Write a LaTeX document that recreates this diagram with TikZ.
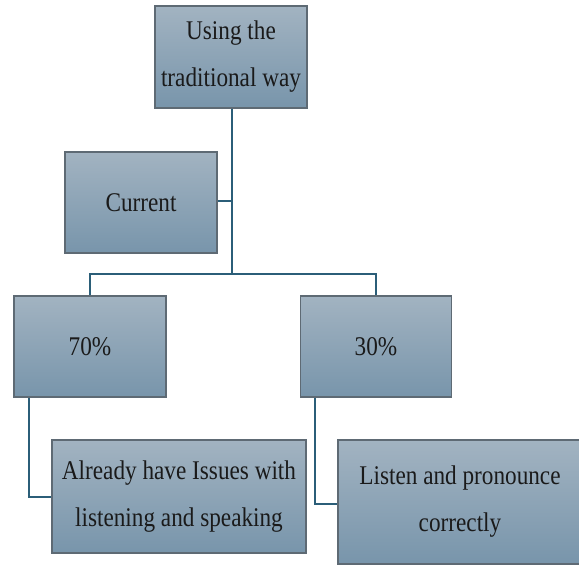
\documentclass[tikz,border=0pt]{standalone}
\usepackage{fontspec}
\setmainfont[FakeStretch=0.86]{Liberation Serif}
\definecolor{boxtop}{HTML}{A2B3C1}
\definecolor{boxbot}{HTML}{7895AB}
\definecolor{boxline}{HTML}{5E6A74}
\definecolor{conn}{HTML}{2B5E78}
\definecolor{txt}{HTML}{1A1A1A}
\begin{document}
\begin{tikzpicture}[x=1pt,y=-1pt,
  boxnode/.style={draw=boxline, line width=1.2pt, top color=boxtop, bottom color=boxbot,
    shading angle=0, inner sep=0pt, align=center, text=txt,
    font=\fontsize{27}{47}\selectfont},
  link/.style={draw=conn, line width=1.6pt}]
\useasboundingbox (0,0) rectangle (579,566);
\node[boxnode, minimum width=152pt, minimum height=102pt] (top) at (231,57) {Using the\\traditional way};
\node[boxnode, minimum width=152pt, minimum height=101pt] (cur) at (141,202.5) {Current};
\node[boxnode, minimum width=152pt, minimum height=101pt] (p70) at (90,346.5) {70\%};
\node[boxnode, minimum width=151pt, minimum height=101pt] (p30) at (376,346.5) {30\%};
\node[boxnode, minimum width=254pt, minimum height=113pt] (alr) at (179,496.5) {Already have Issues with\\listening and speaking};
\node[boxnode, minimum width=244pt, minimum height=124pt] (lis) at (460,502) {Listen and pronounce\\correctly};
\coordinate (hub) at (232,274);
\coordinate (cj) at (232,201);
\draw[link] (top.south -| hub) -- (hub);
\draw[link] (cj) -- (cur.east |- cj);
\draw[link] (p70.north) |- (hub) -| (p30.north);
\coordinate (l1) at (29,497);
\coordinate (l2) at (315,504);
\draw[link] (p70.south -| l1) -- (l1) -- (alr.west |- l1);
\draw[link] (p30.south -| l2) -- (l2) -- (lis.west |- l2);
\end{tikzpicture}
\end{document}
